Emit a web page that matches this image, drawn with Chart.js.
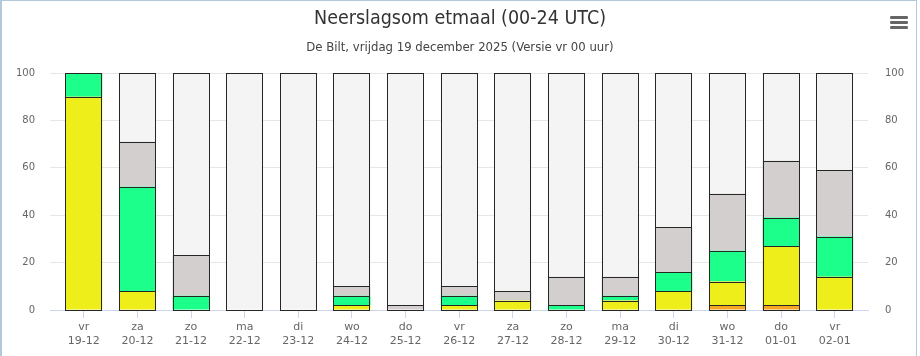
<!DOCTYPE html>
<html>
<head>
<meta charset="utf-8">
<script src="https://cdn.jsdelivr.net/npm/chart.js@4/dist/chart.umd.min.js"></script>
<style>
  html, body { margin: 0; padding: 0; background: #ffffff; }
  #wrap { position: relative; width: 920px; height: 356px; }
  canvas { display: block; }
</style>
</head>
<body>
<div id="wrap"><canvas id="c" width="920" height="356"></canvas></div>
<script>
// ---- data ----
const dayNames = ['vr','za','zo','ma','di','wo','do','vr','za','zo','ma','di','wo','do','vr'];
const dates    = ['19-12','20-12','21-12','22-12','23-12','24-12','25-12','26-12','27-12','28-12','29-12','30-12','31-12','01-01','02-01'];
const orangeVals = [0, 0, 0, 0, 0, 0, 0, 0, 0, 0, 0, 0, 2, 2, 0];
const yellowVals = [90, 8, 0, 0, 0, 2, 0, 2, 4, 0, 4, 8, 10, 25, 14];
const greenVals  = [10, 44, 6, 0, 0, 4, 0, 4, 0, 2, 2, 8, 13, 12, 17];
const greyVals   = [0, 19, 17, 0, 0, 4, 2, 4, 4, 12, 8, 19, 24, 24, 28];
const lightVals  = [0, 29, 77, 100, 100, 90, 98, 90, 92, 86, 86, 65, 51, 37, 41];
const yTicks = [0, 20, 40, 60, 80, 100];
const titleText = 'Neerslagsom etmaal (00-24 UTC)';
const subtitleText = 'De Bilt, vrijdag 19 december 2025 (Versie vr 00 uur)';

const condensed = '"DejaVu Sans Condensed", "Liberation Sans Narrow", "DejaVu Sans", sans-serif';
const normalFont = '"DejaVu Sans", Verdana, sans-serif';

function toPoints(arr) {
  return arr.map((v, i) => ({ x: i, y: v === 0 ? null : v }));
}
function ds(label, arr, color) {
  return {
    label: label,
    data: toPoints(arr),
    backgroundColor: color,
    borderWidth: 0,
    inflateAmount: 0,
    categoryPercentage: 1,
    barPercentage: 0.69,
    stack: 's'
  };
}

// crisp 1px outlines around each bar segment, using the positions Chart.js computed
const crispOutline = {
  id: 'crispOutline',
  afterDatasetsDraw(chart) {
    const ctx = chart.ctx;
    ctx.save();
    ctx.strokeStyle = '#262626';
    ctx.lineWidth = 1;
    chart.data.datasets.forEach((d, di) => {
      const meta = chart.getDatasetMeta(di);
      meta.data.forEach((el, i) => {
        if (d.data[i].y === null) return;
        const p = el.getProps(['x', 'y', 'base', 'width'], true);
        const l = Math.round(p.x - p.width / 2) + 0.5;
        const r = Math.round(p.x + p.width / 2) - 0.5;
        const t = Math.round(Math.min(p.y, p.base)) + 0.5;
        const b = Math.round(Math.max(p.y, p.base)) + 0.5;
        ctx.strokeRect(l, t, r - l, b - t);
      });
    });
    ctx.restore();
  }
};

const framePlugin = {
  id: 'frame',
  afterDraw(chart) {
    const ctx = chart.ctx;
    ctx.save();
    ctx.fillStyle = '#b3c9da';
    ctx.fillRect(0, 0, 2, 356);
    ctx.fillRect(0, 0, 917, 1);
    ctx.fillRect(916, 0, 1, 356);
    // menu icon
    ctx.fillStyle = '#666666';
    [16, 21, 26].forEach(y => {
      ctx.beginPath();
      ctx.roundRect(890, y, 18, 3, 1.2);
      ctx.fill();
    });
    ctx.restore();
  }
};

new Chart(document.getElementById('c'), {
  type: 'bar',
  data: {
    datasets: [
      ds('oranje', orangeVals, '#f5a623'),
      ds('geel', yellowVals, '#eeee1a'),
      ds('groen', greenVals, '#1cff8a'),
      ds('grijs', greyVals, '#d3cfcf'),
      ds('lichtgrijs', lightVals, '#f4f4f4')
    ]
  },
  options: {
    responsive: false,
    animation: false,
    devicePixelRatio: 1,
    layout: { padding: { top: 0, bottom: 0, left: 0, right: 0 } },
    plugins: {
      legend: { display: false },
      tooltip: { enabled: false },
      title: {
        display: true,
        text: titleText,
        color: '#333333',
        font: { size: 19.5, family: condensed, weight: 'normal' },
        padding: { top: 7, bottom: 9 }
      },
      subtitle: {
        display: true,
        text: subtitleText,
        color: '#444444',
        font: { size: 13, family: condensed, weight: 'normal' },
        padding: { top: 0, bottom: 18 }
      }
    },
    scales: {
      x: {
        type: 'linear',
        stacked: true,
        offset: false,
        min: -0.63,
        max: 14.62,
        afterBuildTicks(scale) {
          scale.ticks = dayNames.map((_, i) => ({ value: i }));
        },
        afterFit(scale) { scale.height = 46; },
        ticks: {
          color: '#666666',
          font: { size: 11, family: normalFont },
          padding: 3,
          maxRotation: 0,
          autoSkip: false,
          callback: (v) => [dayNames[v], dates[v]]
        },
        grid: { offset: false, drawOnChartArea: false, drawTicks: true, tickLength: 8, color: '#ccd6eb' },
        border: { display: true, color: '#ccd6eb' }
      },
      y: {
        position: 'left',
        stacked: true,
        min: 0,
        max: 100,
        afterBuildTicks(scale) { scale.ticks = yTicks.map(v => ({ value: v })); },
        afterFit(scale) { scale.width = 50; },
        ticks: { color: '#666666', font: { size: 10, family: normalFont }, padding: 15 },
        grid: { color: '#e6e6e6', drawTicks: false },
        border: { display: false }
      },
      y2: {
        position: 'right',
        min: 0,
        max: 100,
        afterBuildTicks(scale) { scale.ticks = yTicks.map(v => ({ value: v })); },
        afterFit(scale) { scale.width = 52; },
        ticks: { color: '#666666', font: { size: 10, family: normalFont }, padding: 17 },
        grid: { drawOnChartArea: false, drawTicks: false },
        border: { display: false }
      }
    }
  },
  plugins: [crispOutline, framePlugin]
});
</script>
</body>
</html>
